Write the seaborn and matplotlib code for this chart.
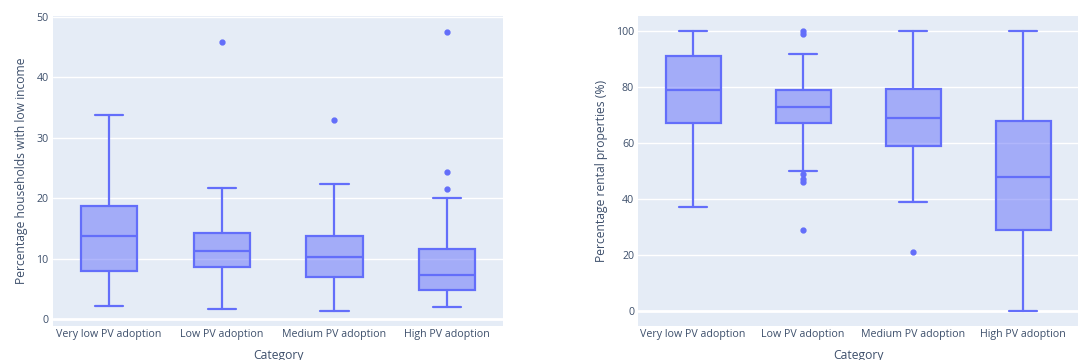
import matplotlib
matplotlib.use("Agg")
import matplotlib.pyplot as plt
import seaborn as sns

categories = ["Very low PV adoption", "Low PV adoption", "Medium PV adoption", "High PV adoption"]

# left panel: percentage households with low income
inc_whislo = [2.2, 1.6, 1.3, 1.9]
inc_q1 = [8.0, 8.6, 7.0, 4.8]
inc_med = [13.7, 11.2, 10.3, 7.2]
inc_q3 = [18.7, 14.2, 13.7, 11.6]
inc_whishi = [33.7, 21.7, 22.3, 20.0]
inc_fliers = [[], [45.8], [32.9], [21.6, 24.4, 47.5]]

# right panel: percentage rental properties
rent_whislo = [37, 50, 39, 0]
rent_q1 = [67, 67, 59, 29]
rent_med = [79, 73, 69, 48]
rent_q3 = [91, 79, 79.2, 68]
rent_whishi = [100, 92, 100, 100]
rent_fliers = [[], [29, 46, 47, 49, 99, 100], [21], []]

BLUE = "#636efa"
FONT_COL = "#3d4f6b"

sns.set_theme(style="darkgrid", rc={
    "axes.facecolor": "#e5ecf6",
    "grid.color": "white",
    "grid.linewidth": 1.0,
    "axes.edgecolor": "#e5ecf6",
    "xtick.color": FONT_COL,
    "ytick.color": FONT_COL,
    "axes.labelcolor": FONT_COL,
})
plt.rcParams["font.family"] = ["Open Sans", "DejaVu Sans"]


def make_stats(lo, q1, med, q3, hi, fl):
    stats = []
    for i in range(len(categories)):
        stats.append({"whislo": lo[i], "q1": q1[i], "med": med[i], "q3": q3[i],
                      "whishi": hi[i], "fliers": fl[i], "label": categories[i]})
    return stats


def draw(ax, stats, ylabel, ylim, yticks):
    ax.bxp(stats, positions=range(len(categories)), widths=0.5, capwidths=0.25,
           patch_artist=True, showfliers=True,
           boxprops=dict(facecolor=(0.388, 0.431, 0.98, 0.5), edgecolor=BLUE, linewidth=1.6),
           medianprops=dict(color=BLUE, linewidth=1.6),
           whiskerprops=dict(color=BLUE, linewidth=1.6),
           capprops=dict(color=BLUE, linewidth=1.6),
           flierprops=dict(marker="o", markerfacecolor=BLUE, markeredgecolor=BLUE, markersize=3.5))
    ax.set_xlim(-0.5, len(categories) - 0.5)
    ax.set_ylim(*ylim)
    ax.set_yticks(yticks)
    ax.grid(axis="x", visible=False)
    ax.axhline(0, color="white", linewidth=2, zorder=0.5)
    ax.set_xticks(range(len(categories)))
    ax.set_xticklabels(categories, fontsize=7.7)
    ax.tick_params(axis="y", labelsize=7.7, pad=3, length=0)
    ax.tick_params(axis="x", pad=2, length=0)
    ax.set_xlabel("Category", fontsize=8.7)
    ax.xaxis.set_label_coords(0.5, -0.072)
    ax.set_ylabel(ylabel, fontsize=8.7, labelpad=6)
    for s in ax.spines.values():
        s.set_visible(False)


fig = plt.figure(figsize=(10.78, 3.6), dpi=100)
ax1 = fig.add_axes([0.049, 0.094, 0.418, 0.862])
ax2 = fig.add_axes([0.592, 0.094, 0.408, 0.862])

draw(ax1, make_stats(inc_whislo, inc_q1, inc_med, inc_q3, inc_whishi, inc_fliers),
     "Percentage households with low income", (-1.2, 50.2), [0, 10, 20, 30, 40, 50])
draw(ax2, make_stats(rent_whislo, rent_q1, rent_med, rent_q3, rent_whishi, rent_fliers),
     "Percentage rental properties (%)", (-5.5, 105.5), [0, 20, 40, 60, 80, 100])

fig.savefig("out.png", dpi=100)
